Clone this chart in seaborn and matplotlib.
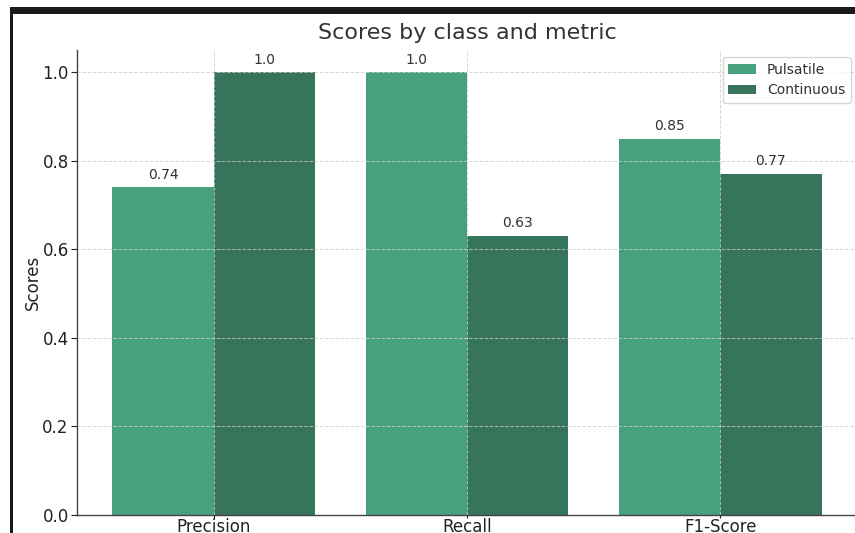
import matplotlib
matplotlib.use("Agg")
import matplotlib.pyplot as plt
from matplotlib.patches import Rectangle
import seaborn as sns
import pandas as pd

metrics = ["Precision", "Recall", "F1-Score"]
pulsatile = [0.74, 1.0, 0.85]
continuous = [1.0, 0.63, 0.77]
classes = ["Pulsatile", "Continuous"]
colors = ["#48a07c", "#37745c"]

df = pd.DataFrame({
    "Metric": metrics * 2,
    "Score": pulsatile + continuous,
    "Class": [classes[0]] * 3 + [classes[1]] * 3,
})

sns.set_theme(style="white")
plt.rcParams['font.family'] = ['DejaVu Sans']

W, H = 855, 533
fig = plt.figure(figsize=(W / 100, H / 100), dpi=100)
fig.patch.set_facecolor("white")
ax = fig.add_axes([77 / W, (H - 515) / H, (857 - 77) / W, (515 - 50) / H])

sns.barplot(data=df, x="Metric", y="Score", hue="Class", order=metrics,
            hue_order=classes, palette=colors, width=0.8, saturation=1,
            ax=ax, errorbar=None, linewidth=0)

for cont in ax.containers:
    ax.bar_label(cont, labels=[f"{v:.2f}".rstrip("0") if v != 1.0 else "1.0" for v in cont.datavalues],
                 padding=4, fontsize=10, color="#333333")

ax.set_xlim(-0.54, 2.54)
ax.set_ylim(0, 1.05)
ax.set_yticks([0.0, 0.2, 0.4, 0.6, 0.8, 1.0])
ax.set_yticklabels(["0.0", "0.2", "0.4", "0.6", "0.8", "1.0"])
ax.set_axisbelow(False)
ax.grid(True, linestyle="--", linewidth=0.7, color="#cccccc", alpha=0.8)
ax.set_xlabel("")
ax.set_ylabel("Scores", fontsize=12, color="#222222", labelpad=0)
ax.set_title("Scores by class and metric", fontsize=16, color="#333333", pad=8)
ax.tick_params(axis="y", labelsize=12, colors="#222222", length=4, width=0.8,
               direction="out", left=True, pad=2)
ax.tick_params(axis="x", labelsize=12, colors="#222222", length=2, width=0.8,
               direction="out", bottom=True, pad=0)
for s in ["top", "right"]:
    ax.spines[s].set_visible(False)
for s in ["left", "bottom"]:
    ax.spines[s].set_color("#444444")
    ax.spines[s].set_linewidth(1.0)

leg = ax.legend(loc="upper right", fontsize=10, frameon=True, bbox_to_anchor=(0.992, 0.985),
                borderaxespad=0)
leg.get_frame().set_edgecolor("#cccccc")
for t in leg.get_texts():
    t.set_color("#333333")

# screenshot frame
fig.add_artist(Rectangle((10 / W, 0), 3 / W, 1 - 7 / H, transform=fig.transFigure,
                         facecolor="#1a1a1a", edgecolor="none"))
fig.add_artist(Rectangle((10 / W, 1 - 14 / H), 1 - 10 / W, 7 / H, transform=fig.transFigure,
                         facecolor="#1a1a1a", edgecolor="none"))

fig.savefig("out.png", dpi=100)
